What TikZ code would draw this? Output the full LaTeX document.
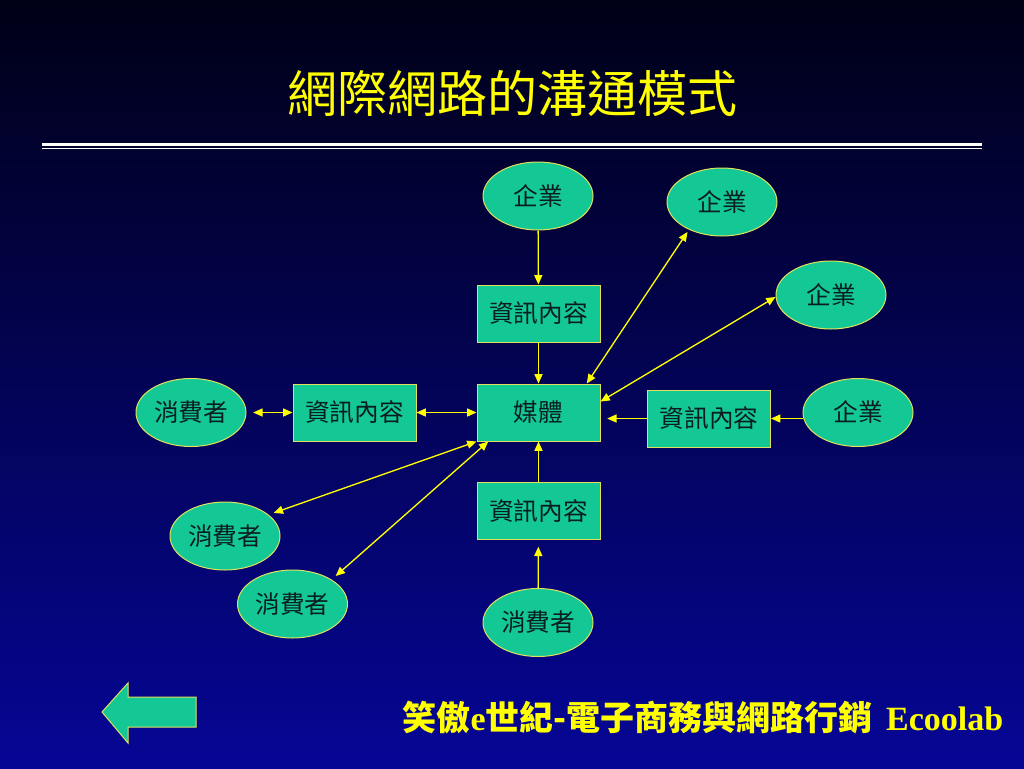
\documentclass[tikz,border=0pt]{standalone}
\usepackage{fontspec}
\setmainfont{Liberation Serif}
\newfontfamily\cjk{Noto Sans CJK TC}
\usetikzlibrary{shapes.geometric,arrows.meta}
\definecolor{bgtop}{RGB}{0,0,22}
\definecolor{bgbottom}{RGB}{6,6,150}
\definecolor{nodegreen}{RGB}{20,200,150}
\definecolor{edgeyellow}{RGB}{225,225,90}
\definecolor{linkyellow}{RGB}{255,255,0}
\definecolor{nodetext}{RGB}{10,30,30}
\tikzset{every picture/.style={line width=0.75pt}}
\tikzset{ytip/.tip={Triangle[length=7pt,width=6pt]}}

\begin{document}
\begin{tikzpicture}[x=0.75pt,y=0.75pt,yscale=-1,xscale=1,
  firm/.style={ellipse,draw=edgeyellow,fill=nodegreen,minimum width=82.5pt,minimum height=51pt,inner sep=0pt,text=nodetext,font=\cjk\fontsize{18.5}{20}\selectfont},
  infobox/.style={rectangle,draw=edgeyellow,fill=nodegreen,minimum width=92.25pt,minimum height=42.75pt,inner sep=0pt,text=nodetext,font=\cjk\fontsize{18.5}{20}\selectfont},
  link/.style={draw=linkyellow,line width=1pt,-ytip},
  twoway/.style={draw=linkyellow,line width=1pt,ytip-ytip}]
\useasboundingbox (0,0) rectangle (1024,768);

%Background
\shade[top color=bgtop,bottom color=bgbottom] (0,0) rectangle (1024,768);
%Double rule
\draw [white,line width=2.4pt] (42,144.5) -- (982,144.5) ;
\draw [white,line width=0.9pt] (42,148.5) -- (982,148.5) ;

% Title
\draw (512,93) node [text=linkyellow,font=\cjk\fontsize{37.5}{40}\selectfont] (title) {網際網路的溝通模式};

%Shape: Ellipse (firms)
\draw (538,196) node [firm] (firmtop) {企業};
\draw (722,202) node [firm] (firmup) {企業};
\draw (831,295) node [firm] (firmmid) {企業};
\draw (858,412.5) node [firm] (firmright) {企業};
%Shape: Ellipse (consumers)
\draw (191,412.5) node [firm] (userleft) {消費者};
\draw (225,536) node [firm] (userlow) {消費者};
\draw (292.5,604) node [firm] (userdown) {消費者};
\draw (538,622.5) node [firm] (userbottom) {消費者};
%Shape: Rectangle
\draw (538.5,412.5) node [infobox] (media) {媒體};
\draw (538.5,313.5) node [infobox] (infotop) {資訊內容};
\draw (709,418.5) node [infobox] (inforight) {資訊內容};
\draw (354.5,412.5) node [infobox] (infoleft) {資訊內容};
\draw (538.5,511) node [infobox] (infobottom) {資訊內容};

% Connection
\draw [link] (firmtop) -- (infotop) ;
\draw [link] (infotop) -- (media) ;
\draw [link] (inforight.east -| firmright.west) -- (inforight.east) ;
\draw [link,shorten >=5pt] (inforight.west) -- (inforight.west -| media.east) ;
\draw [link] (infobottom) -- (media) ;
\draw [link,shorten >=5pt] (userbottom) -- (infobottom) ;
\draw [twoway,shorten <=5pt] (userleft) -- (infoleft) ;
\draw [twoway] (infoleft) -- (media) ;
\draw [twoway,shorten >=2pt] (media.31) -- (firmup.220) ;
\draw [twoway] (media.10) -- (firmmid.182) ;
\draw [twoway,shorten >=4pt] (media.south west) -- (userlow.26) ;
\draw [twoway,shorten >=4pt] (media.210) -- (userdown.32) ;

%Shape: Back arrow
\draw [draw=edgeyellow,fill=nodegreen] (102,712) -- (128,683) -- (128,697) -- (196,697) -- (196,727) -- (128,727) -- (128,743) -- cycle ;

% Footer
\draw (703,718) node [text=linkyellow,font=\cjk\bfseries\fontsize{25.5}{28}\selectfont] (footer) {笑傲{\rmfamily e}世紀-電子商務與網路行銷\hspace{10pt}{\rmfamily Ecoolab}};
\end{tikzpicture}
\end{document}
